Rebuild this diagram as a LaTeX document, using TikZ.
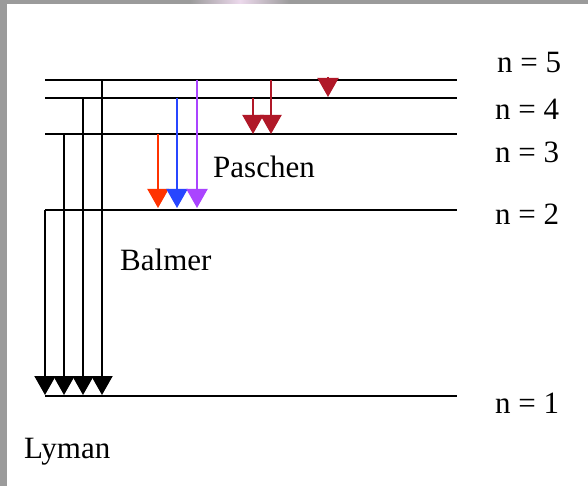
\documentclass[tikz,border=0pt]{standalone}
\usepackage{fontspec}
\setmainfont{Liberation Serif}
\usetikzlibrary{arrows.meta}
\definecolor{bordergray}{RGB}{155,155,155}
\definecolor{balred}{RGB}{255,51,0}
\definecolor{balblue}{RGB}{40,70,255}
\definecolor{balpurple}{RGB}{170,68,255}
\definecolor{pasred}{RGB}{176,24,40}
\begin{document}
\begin{tikzpicture}[x=1pt,y=-1pt,
  level/.style={line width=2pt,black},
  lyman/.style={line width=2pt,black,-{Triangle[width=21pt,length=19pt]}},
  trans/.style={line width=2pt,-{Triangle[width=21pt,length=19pt]}},
  lab/.style={anchor=base west,inner sep=0pt,font=\fontsize{31}{36}\selectfont}]
\useasboundingbox (0,0) rectangle (588,486);
\fill[white] (0,0) rectangle (588,486);
\fill[bordergray] (0,0) rectangle (588,4);
\shade[left color=bordergray,right color=white!85!violet] (190,0) rectangle (240,4);
\shade[left color=white!85!violet,right color=bordergray] (240,0) rectangle (290,4);
\fill[bordergray] (0,0) rectangle (7,486);
% level coordinates
\coordinate (L5a) at (45,80);  \coordinate (L5b) at (457,80);
\coordinate (L4a) at (45,98);  \coordinate (L4b) at (457,98);
\coordinate (L3a) at (45,134); \coordinate (L3b) at (457,134);
\coordinate (L2a) at (45,210); \coordinate (L2b) at (457,210);
\coordinate (L1a) at (45,396); \coordinate (L1b) at (457,396);
\draw[level] (L5a) -- (L5b);
\draw[level] (L4a) -- (L4b);
\draw[level] (L3a) -- (L3b);
\draw[level] (L2a) -- (L2b);
\draw[level] (L1a) -- (L1b);
% Lyman
\coordinate (ly2s) at (45,210);  \coordinate (ly2e) at (45,395);
\coordinate (ly3s) at (64,134);  \coordinate (ly3e) at (64,395);
\coordinate (ly4s) at (83,98);   \coordinate (ly4e) at (83,395);
\coordinate (ly5s) at (102,80);  \coordinate (ly5e) at (102,395);
\draw[lyman] (ly2s) -- (ly2e);
\draw[lyman] (ly3s) -- (ly3e);
\draw[lyman] (ly4s) -- (ly4e);
\draw[lyman] (ly5s) -- (ly5e);
% Balmer
\coordinate (ba3s) at (158,134); \coordinate (ba3e) at (158,208);
\coordinate (ba4s) at (177,98);  \coordinate (ba4e) at (177,208);
\coordinate (ba5s) at (197,80);  \coordinate (ba5e) at (197,208);
\draw[trans,balred] (ba3s) -- (ba3e);
\draw[trans,balblue] (ba4s) -- (ba4e);
\draw[trans,balpurple] (ba5s) -- (ba5e);
% Paschen
\coordinate (pa4s) at (253,98);  \coordinate (pa4e) at (253,134);
\coordinate (pa5s) at (271,80);  \coordinate (pa5e) at (271,134);
\draw[trans,pasred] (pa4s) -- (pa4e);
\draw[trans,pasred] (pa5s) -- (pa5e);
% 5 -> 4
\coordinate (br5s) at (328,77); \coordinate (br5e) at (328,97);
\draw[trans,pasred] (br5s) -- (br5e);
% labels
\node[lab] (n5) at (497,73) {n = 5};
\node[lab] (n4) at (495,120) {n = 4};
\node[lab] (n3) at (495,163) {n = 3};
\node[lab] (n2) at (495,225) {n = 2};
\node[lab] (n1) at (495,413) {n = 1};
\node[lab] (pas) at (213,178) {Paschen};
\node[lab] (bal) at (120,270) {Balmer};
\node[lab] (lym) at (24,458) {Lyman};
\end{tikzpicture}
\end{document}
